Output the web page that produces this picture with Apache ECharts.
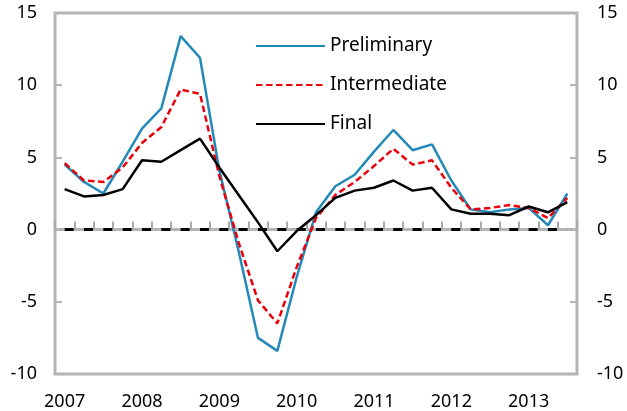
<!DOCTYPE html>
<html>
<head>
<meta charset="utf-8">
<script src="https://cdn.jsdelivr.net/npm/echarts@6/dist/echarts.min.js"></script>
<style>
  html, body { margin: 0; padding: 0; background: #fff; }
  #chart { width: 627px; height: 411px; }
</style>
</head>
<body>
<div id="chart"></div>
<script>
// quarterly, 2007Q1 .. 2013Q3
var quarters = ['2007Q1','2007Q2','2007Q3','2007Q4','2008Q1','2008Q2','2008Q3','2008Q4',
  '2009Q1','2009Q2','2009Q3','2009Q4','2010Q1','2010Q2','2010Q3','2010Q4',
  '2011Q1','2011Q2','2011Q3','2011Q4','2012Q1','2012Q2','2012Q3','2012Q4',
  '2013Q1','2013Q2','2013Q3'];
var preliminary = [4.5, 3.3, 2.5, 4.7, 7.0, 8.4, 13.4, 11.9, 4.1, -1.5, -7.5, -8.4, -3.3, 1.2,
  3.0, 3.8, 5.4, 6.9, 5.5, 5.9, 3.4, 1.4, 1.2, 1.4, 1.5, 0.3, 2.5];
var intermediate = [4.6, 3.4, 3.3, 4.3, 6.0, 7.1, 9.7, 9.4, 3.7, -0.9, -4.9, -6.5, -2.6, 0.8,
  2.4, 3.3, 4.4, 5.6, 4.5, 4.8, 2.9, 1.4, 1.5, 1.7, 1.5, 0.8, 2.2];
var final = [2.8, 2.3, 2.4, 2.8, 4.8, 4.7, 5.5, 6.3, 4.3, 2.4, 0.5, -1.5, -0.1, 1.0,
  2.2, 2.7, 2.9, 3.4, 2.7, 2.9, 1.4, 1.1, 1.1, 1.0, 1.6, 1.2, 1.9];
var baseline = [0,0,0,0,0,0,0,0,0,0,0,0,0,0,0,0,0,0,0,0,0,0,0,0,0,0,0];

var gray = '#b4b4b4';
var font = 'Noto Sans';

var chart = echarts.init(document.getElementById('chart'));

function valueAxis(pos, margin) {
  return {
    type: 'value',
    position: pos,
    min: -10,
    max: 15,
    interval: 5,
    axisLine: { show: false },
    axisTick: { show: true, inside: true, length: 7, lineStyle: { color: gray, width: 2 } },
    splitLine: { show: false },
    axisLabel: { color: '#000', fontFamily: font, fontSize: 18, margin: margin }
  };
}

function lineSeries(name, data, color, width, dash) {
  return {
    name: name,
    type: 'line',
    data: data,
    symbol: 'none',
    itemStyle: { color: color },
    lineStyle: { color: color, width: width, type: dash || 'solid' }
  };
}

chart.setOption({
  animation: false,
  grid: {
    left: 55, right: 50, top: 13, bottom: 37,
    show: true, borderColor: gray, borderWidth: 3
  },
  legend: {
    orient: 'vertical',
    left: 255,
    top: 36,
    padding: 0,
    itemWidth: 69,
    itemHeight: 20,
    itemGap: 19,
    itemStyle: { opacity: 0 },
    textStyle: { color: '#000', fontFamily: font, fontSize: 19, lineHeight: 20 },
    data: ['Preliminary', 'Intermediate', 'Final']
  },
  xAxis: [
    {
      // zero line with quarter ticks
      type: 'category',
      data: quarters,
      axisLine: { show: true, onZero: true, lineStyle: { color: gray, width: 3 } },
      axisTick: { show: true, inside: true, interval: 0, length: 8, lineStyle: { color: '#aaaaaa', width: 2 } },
      axisLabel: { show: false, interval: 0 },
      splitLine: { show: false }
    },
    {
      // year labels under the frame
      type: 'category',
      data: quarters,
      position: 'bottom',
      axisLine: { show: false, onZero: false },
      axisTick: { show: false },
      axisLabel: {
        interval: 3,
        color: '#000', fontFamily: font, fontSize: 18, margin: 19,
        formatter: function (v) { return v.slice(0, 4); }
      },
      splitLine: { show: false }
    }
  ],
  yAxis: [valueAxis('left', 18), valueAxis('right', 20)],
  series: [
    {
      name: 'zero',
      type: 'line',
      data: baseline,
      symbol: 'none',
      silent: true,
      lineStyle: { color: '#000', width: 3, type: [9, 10.33] }
    },
    lineSeries('Preliminary', preliminary, '#2389b8', 2.5),
    lineSeries('Intermediate', intermediate, '#e8000b', 2.5, [6.5, 3.5]),
    lineSeries('Final', final, '#000', 2.5)
  ]
});
</script>
</body>
</html>
